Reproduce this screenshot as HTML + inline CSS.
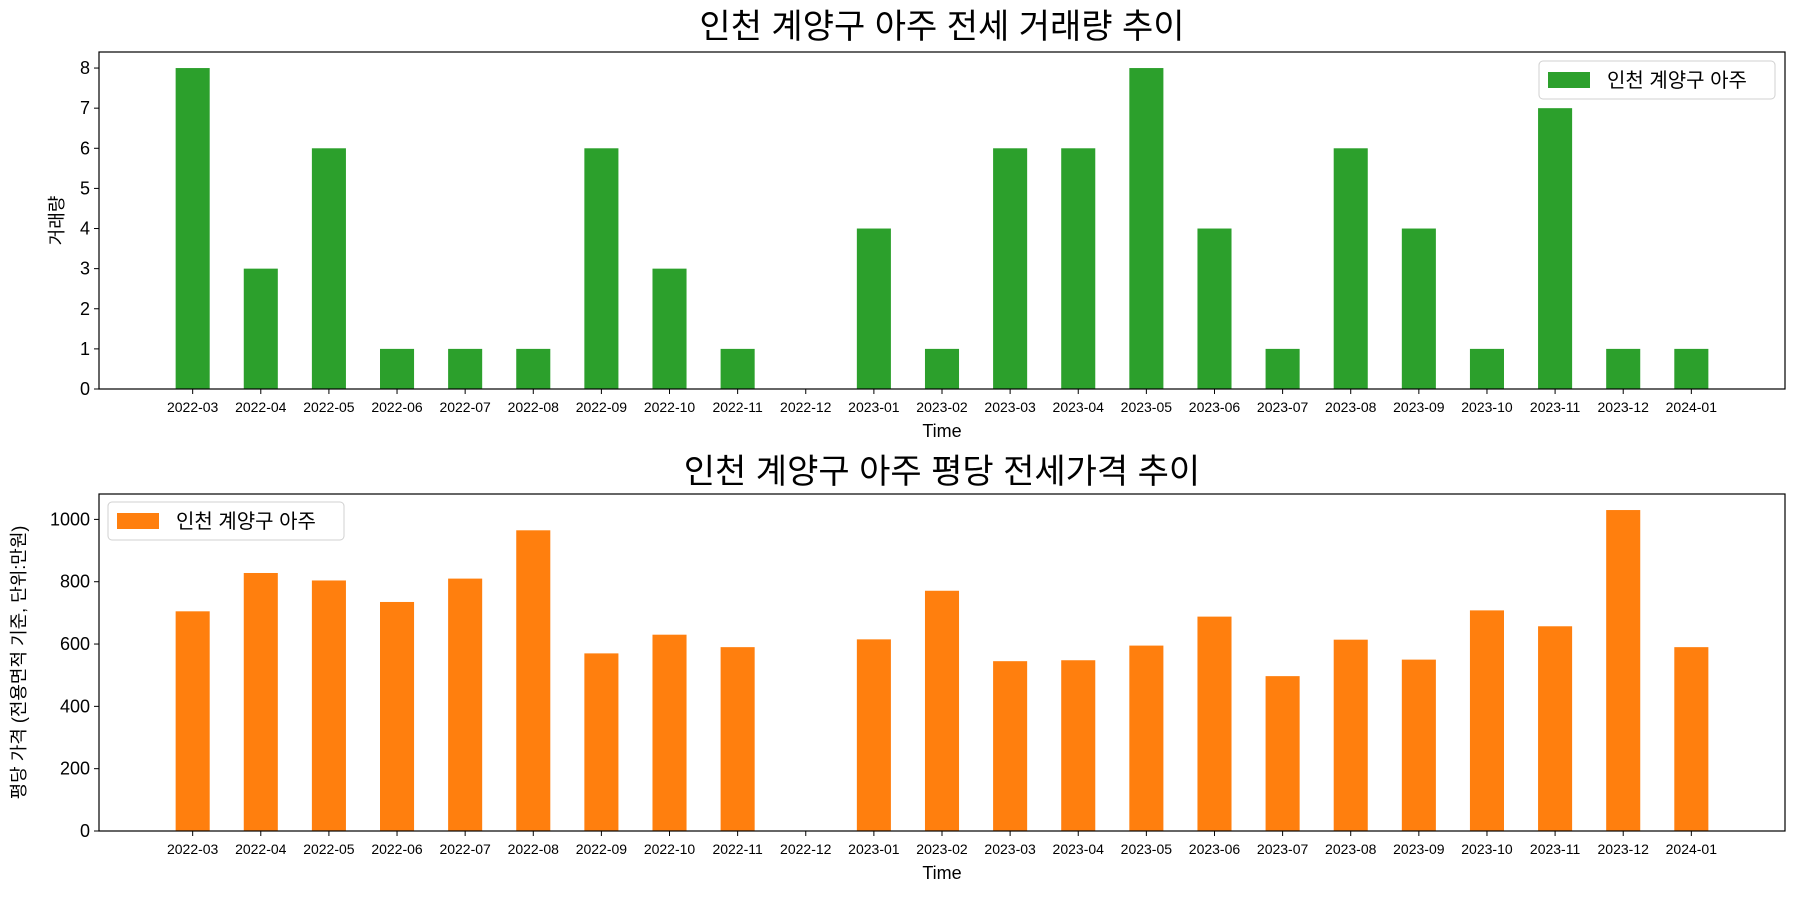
<!DOCTYPE html>
<html><head><meta charset="utf-8">
<style>
html,body{margin:0;padding:0;background:#fff;}
svg{display:block;font-family:"Liberation Sans","Noto Sans CJK KR",sans-serif;}
</style></head>
<body>
<svg id="chart" width="1800" height="900" viewBox="0 0 1800 900" xmlns="http://www.w3.org/2000/svg"></svg>
<script>
const categories = ["2022-03","2022-04","2022-05","2022-06","2022-07","2022-08","2022-09","2022-10","2022-11","2022-12","2023-01","2023-02","2023-03","2023-04","2023-05","2023-06","2023-07","2023-08","2023-09","2023-10","2023-11","2023-12","2024-01"];
const volumeValues = [8,3,6,1,1,1,6,3,1,0,4,1,6,6,8,4,1,6,4,1,7,1,1];
const priceValues = [705,828,804,735,810,965,570,630,590,null,615,771,545,548,595,688,497,614,550,708,657,1030,590];
const volumeTicks = [0,1,2,3,4,5,6,7,8];
const priceTicks = [0,200,400,600,800,1000];
const seriesName = "인천 계양구 아주";

const NS = "http://www.w3.org/2000/svg";
const svg = document.getElementById('chart');
function mk(tag, attrs, parent){const e=document.createElementNS(NS,tag);for(const k in attrs)e.setAttribute(k,attrs[k]);(parent||svg).appendChild(e);return e;}

function drawPanel(p){
  const g = mk('g',{});
  
  
  const L=99,R=1785,T=p.top,B=p.bottom;
  const n=categories.length;
  const xmin=-1.375,xmax=n-1+1.375;
  const x=i=>L+(i-xmin)/(xmax-xmin)*(R-L);
  const ymax=p.ymax;
  const y=v=>B-v/ymax*(B-T);
  const bw=(x(1)-x(0))*0.5;
  // title
  const t=mk('text',{x:(L+R)/2,y:p.titleY,'text-anchor':'middle','font-size':34,fill:'#000'},g);
  t.textContent=p.title;
  
  
  // bars
  p.values.forEach((v,i)=>{
    if(v==null||v===0) return;
    const r=mk('rect',{x:x(i)-bw/2,y:y(v),width:bw,height:B-y(v),fill:p.color},g);
    
    
  });
  // frame
  const fr=mk('rect',{x:L,y:T,width:R-L,height:B-T,fill:'none',stroke:'#000','stroke-width':1.2},g);
  
  
  // y ticks
  p.ticks.forEach(v=>{
    mk('line',{x1:L-5,x2:L,y1:y(v),y2:y(v),stroke:'#000','stroke-width':1},g);
    const tl=mk('text',{x:L-9,y:y(v)+6,'text-anchor':'end','font-size':18,fill:'#000'},g);
    tl.textContent=v;
    
    
  });
  // x ticks
  categories.forEach((c,i)=>{
    mk('line',{x1:x(i),x2:x(i),y1:B,y2:B+5,stroke:'#000','stroke-width':1},g);
    const tl=mk('text',{x:x(i),y:B+23,'text-anchor':'middle','font-size':14,fill:'#000'},g);
    tl.textContent=c;
    
    
  });
  const xl=mk('text',{x:(L+R)/2,y:B+48,'text-anchor':'middle','font-size':18,fill:'#000'},g);
  xl.textContent='Time';
  
  
  const yl=mk('text',{x:0,y:0,'text-anchor':'middle','font-size':18,fill:'#000',transform:`translate(${p.ylabelX},${(T+B)/2}) rotate(-90)`},g);
  yl.textContent=p.ylabel;
  
  
  // legend
  const lg=mk('g',{},g);
  
  
  mk('rect',{x:p.lx,y:p.ly,width:236,height:38,rx:4,fill:'#fff','fill-opacity':0.8,stroke:'#d0d0d0','stroke-width':1},lg);
  mk('rect',{x:p.lx+9,y:p.ly+11,width:42,height:16,fill:p.color},lg);
  const lt=mk('text',{x:p.lx+68,y:p.ly+26,'font-size':20,fill:'#000'},lg);
  lt.textContent=seriesName;
}

drawPanel({name:'volume-chart',top:52,bottom:389,ymax:8.4,values:volumeValues,ticks:volumeTicks,color:'#2ca02c',title:'인천 계양구 아주 전세 거래량 추이',titleY:38,ylabel:'거래량',ylabelX:63,lx:1539,ly:61});
drawPanel({name:'price-chart',top:494,bottom:831,ymax:1081.5,values:priceValues,ticks:priceTicks,color:'#ff7f0e',title:'인천 계양구 아주 평당 전세가격 추이',titleY:483,ylabel:'평당 가격 (전용면적 기준, 단위:만원)',ylabelX:25,lx:108,ly:502});
</script>
</body></html>
